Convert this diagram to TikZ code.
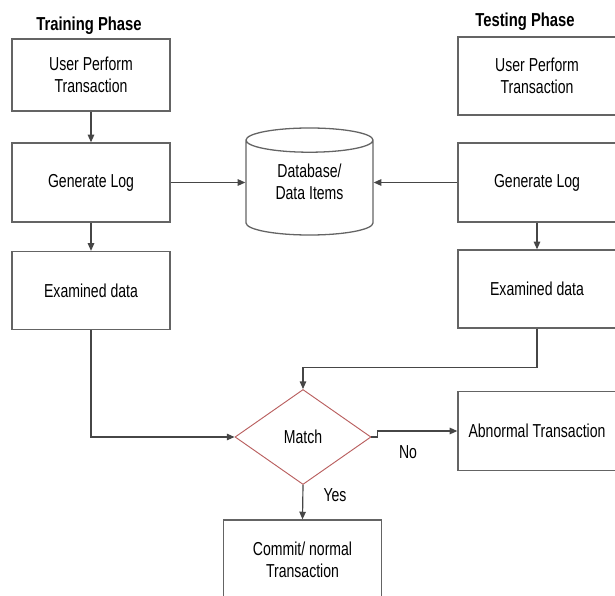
\documentclass[tikz,border=0pt]{standalone}
\usepackage{fontspec}
\setmainfont{Liberation Sans}[FakeStretch=0.75, BoldFeatures={FakeStretch=0.79}]
\usetikzlibrary{arrows.meta, shapes.geometric}
\definecolor{cinza}{RGB}{70,70,70}
\definecolor{borda}{RGB}{100,100,100}
\definecolor{vinho}{RGB}{185,95,95}

\begin{document}
\begin{tikzpicture}[
    x=0.03cm,
    y=-0.03cm,
    font=\fontsize{16pt}{18.7pt}\selectfont,
    titulo/.style={
        font=\fontsize{16pt}{18.7pt}\selectfont\bfseries
    },
    caixa/.style={
        draw=borda,
        line width=1.1pt,
        align=center,
        minimum width=4.74cm,
        minimum height=2.37cm
    },
    banco/.style={
        cylinder,
        shape border rotate=90,
        draw=borda,
        line width=1.1pt,
        aspect=3.1,
        anchor=shape center,
        minimum width=3.81cm,
        minimum height=3.21cm
    },
    decisao/.style={
        diamond,
        draw=vinho,
        line width=0.8pt,
        inner sep=0pt,
        minimum width=4.08cm,
        minimum height=2.85cm
    },
    seta/.style={
        draw=cinza,
        line width=1pt,
        -{Triangle[length=6.5pt, width=5.5pt]}
    }
]

\useasboundingbox (0,0) rectangle (615,596);

\node[titulo] (tituloTreino) at (89,26) {Training Phase};
\node[titulo] (tituloTeste) at (525,22) {Testing Phase};

\node[caixa, minimum height=2.16cm] (userTrain) at (91,75)
{User Perform\\
Transaction};

\node[caixa] (logTrain) at (91,182.5) {Generate Log};

\node[caixa, minimum height=2.34cm] (dataTrain) at (91,290.5) {Examined data};

\node[caixa, minimum height=2.34cm] (userTest) at (537,76)
{User Perform\\
Transaction};

\node[caixa] (logTest) at (537,182.5) {Generate Log};

\node[caixa, minimum height=2.34cm] (dataTest) at (537,289) {Examined data};

\node[banco] (db) at (309.5,181.5) {};
\node[align=center] (dbTexto) at (db.shape center)
{Database/\\
Data Items};

\node[decisao] (match) at (303,437) {Match};

\node[caixa] (abnormal) at (537,431) {Abnormal Transaction};

\node[caixa] (commit) at (302.5,559.5)
{Commit/ normal\\
Transaction};

\node (no) at (408,452) {No};
\node (yes) at (335,495) {Yes};

\draw[seta] (userTrain) -- (logTrain);
\draw[seta] (logTrain) -- (dataTrain);
\draw[seta] (logTrain.east) -- (logTrain.east -| db.west);
\draw[seta] (logTest.west) -- (logTest.west -| db.east);
\draw[seta] (logTest) -- (dataTest);

\draw[seta] (dataTrain.south) |- (match.west);
\draw[seta] (dataTest.south) -- ++(0,39) -| (match.north);

\draw[seta] (match.east) -- ++(6,0) |- (abnormal.west);
\draw[seta] (match.south) -- (commit.north);

\end{tikzpicture}
\end{document}
